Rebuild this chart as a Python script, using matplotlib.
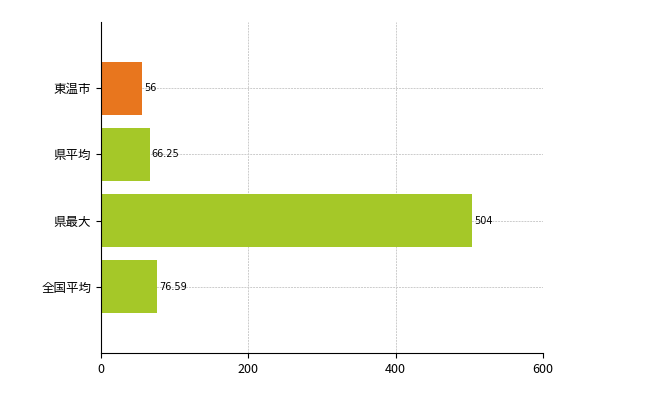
import matplotlib.pyplot as plt

plt.rcParams['font.family'] = ['Noto Sans CJK JP', 'DejaVu Sans']

labels = ["東温市", "県平均", "県最大", "全国平均"]
values = [56, 66.25, 504, 76.59]
value_text = ["56", "66.25", "504", "76.59"]
colors = ["#E8761E", "#A5C828", "#A5C828", "#A5C828"]

fig = plt.figure(figsize=(6.5, 4), dpi=100)
ax = fig.add_axes([101/650, 1-353/400, 442/650, 331/400])

pos = [1, 2, 3, 4]
ax.barh(pos, values, height=0.8, color=colors, zorder=2)
for p, v, t in zip(pos, values, value_text):
    ax.text(v + 2, p, t, va='center', ha='left', fontsize=7, family='DejaVu Sans')

ax.set_xlim(0, 600)
ax.set_ylim(5, 0)
ax.set_xticks([0, 200, 400, 600])
ax.set_yticks(pos)
ax.set_yticklabels(labels, fontsize=9)
ax.tick_params(axis='x', labelsize=9)
ax.grid(True, color='#cccccc', linestyle=(0, (2, 1)), linewidth=0.7, zorder=0)
for s in ['top', 'right']:
    ax.spines[s].set_visible(False)

fig.savefig('out.png', dpi=100)
